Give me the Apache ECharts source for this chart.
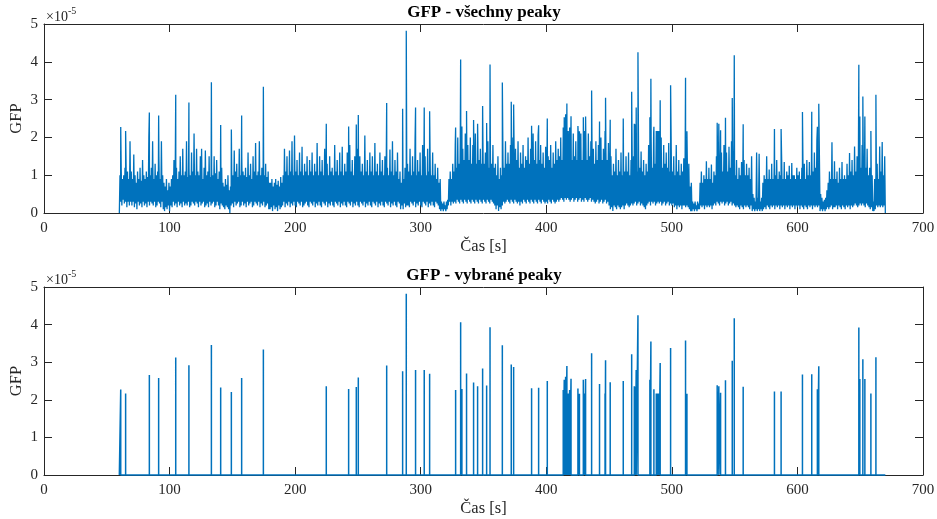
<!DOCTYPE html>
<html><head><meta charset="utf-8">
<script src="https://cdn.jsdelivr.net/npm/echarts@6/dist/echarts.min.js"></script>
<style>html,body{margin:0;padding:0;background:#fff}#c{width:937px;height:519px}</style>
</head><body><div id="c"></div>
<script>
// ---- data (GFP in units of 1e-5) ----
const titles = ['GFP - všechny peaky', 'GFP - vybrané peaky'];
const xLabel = 'Čas [s]';
const yLabel = 'GFP';
const xTicks = [0, 100, 200, 300, 400, 500, 600, 700];
const yTicks = [0, 1, 2, 3, 4, 5];
const sampleStart = 60;   // s
const sampleStep = 0.5;   // s
const signalEnd = 670;    // s
// full GFP signal (sub-threshold part), one value per sample, 10 s per row
const gfpBase = [
 0,1.0,.3,1.15,.2,.9,.35,1.0,.25,1.2,.3,.95,.15,1.1,.3,.9,.2,1.9,.3,1.1,
 .2,.9,.3,1.55,.15,1.0,.25,.8,.1,1.1,.3,.9,.2,1.2,.25,.85,.15,1.4,.3,1.0,
 .2,.9,.25,1.1,.15,.95,.3,2.0,.2,1.0,.3,1.2,.25,1.9,.2,.9,.3,1.3,.15,1.0,
 .2,1.1,.3,1.5,.25,.9,.15,1.9,.3,1.0,.1,.8,.05,.7,.15,.9,.1,.6,.2,.8,
 .05,.7,.2,.9,.15,1.0,.3,1.4,.2,1.0,.25,1.2,.15,.9,.3,1.1,.2,1.5,.25,1.0,
 .15,1.7,.3,1.0,.2,1.1,.25,1.9,.2,.95,.3,1.2,.15,1.0,.2,1.6,.3,1.1,.25,2.1,
 .2,1.0,.3,1.7,.25,1.1,.15,1.0,.3,1.5,.2,1.7,.25,.9,.3,1.2,.15,1.65,.2,1.0,
 .25,1.1,.15,1.5,.3,.95,.2,1.2,.25,1.0,.3,1.5,.15,1.05,.2,1.4,.3,.9,.2,1.1,
 .1,.9,.25,1.2,.2,.8,.15,.7,.1,.9,.2,.75,.15,1.0,.1,.6,0,.7,.2,1.1,
 .25,1.0,.15,1.65,.3,1.1,.2,1.3,.25,.95,.3,1.7,.15,1.0,.2,1.5,.3,1.1,.2,1.0,
 .25,1.2,.15,.95,.3,1.6,.2,1.0,.25,1.3,.3,.9,.15,1.5,.2,1.1,.3,1.85,.25,1.0,
 .2,1.1,.3,1.9,.15,1.0,.25,1.2,.2,.9,.3,1.0,.15,1.3,.2,.95,.25,1.1,.1,.8,
 .1,.8,.15,.9,.05,.7,.2,.8,.1,.9,.15,.75,.05,.85,.2,.7,.1,.95,.15,.8,
 .2,1.0,.3,1.7,.15,1.1,.25,1.5,.2,1.0,.3,1.65,.15,1.1,.25,1.9,.2,1.0,.3,2.05,
 .2,1.1,.15,1.4,.3,1.0,.25,1.6,.2,1.1,.3,1.75,.15,1.0,.2,1.3,.25,1.1,.3,1.5,
 .2,1.0,.15,1.4,.3,1.1,.25,1.6,.2,1.0,.3,1.3,.15,1.1,.25,1.85,.2,1.0,.3,1.5,
 .2,1.1,.15,1.4,.3,1.0,.25,1.7,.2,1.1,.3,1.3,.15,1.0,.25,1.5,.2,1.1,.3,1.2,
 .2,1.0,.15,1.8,.3,1.1,.25,1.4,.2,1.0,.3,1.6,.15,1.1,.25,1.75,.2,1.0,.3,1.3,
 .2,1.1,.15,1.6,.3,1.0,.25,1.8,.2,1.1,.3,1.4,.15,1.0,.25,1.5,.2,1.1,.3,1.7,
 .2,1.0,.15,1.5,.3,1.1,.25,1.3,.2,1.0,.3,2.05,.15,1.1,.25,1.4,.2,1.0,.3,1.6,
 .2,1.1,.15,1.5,.3,1.0,.25,1.85,.2,1.1,.3,1.3,.15,1.0,.25,1.6,.2,1.1,.3,1.4,
 .2,1.0,.15,1.5,.3,1.1,.25,1.2,.2,1.0,.3,1.68,.15,1.1,.25,1.9,.2,1.0,.3,1.4,
 .2,1.1,.15,1.6,.3,.9,.25,1.1,.1,.8,.2,1.0,.1,.9,.25,1.2,.15,1.0,.2,1.3,
 .2,1.1,.15,1.7,.3,1.0,.25,1.5,.2,1.1,.3,1.9,.15,1.0,.25,1.4,.2,1.1,.3,1.6,
 .2,1.0,.15,1.8,.3,1.1,.25,1.5,.2,1.0,.3,1.7,.15,1.1,.25,1.4,.2,1.0,.3,1.6,
 .2,1.0,.15,1.3,.3,.9,.25,1.2,.2,.8,.1,.9,.05,.3,.1,.25,.05,.3,.1,.2,
 .05,.3,.1,.35,.2,.9,.3,1.1,.2,.9,.3,1.3,.25,1.1,.3,1.8,.25,1.2,.35,2.0,
 .3,1.3,.25,1.9,.35,1.2,.3,1.7,.25,1.4,.35,2.1,.3,1.3,.25,1.8,.35,1.4,.3,2.0,
 .25,1.3,.35,1.8,.3,1.4,.25,2.1,.35,1.3,.3,1.9,.25,1.4,.35,1.7,.3,1.3,.25,2.05,
 .35,1.3,.3,1.6,.25,1.4,.35,1.9,.3,1.2,.25,1.5,.35,1.3,.3,1.8,.25,1.2,.2,1.3,
 .1,1.0,.2,1.5,.05,.9,.15,1.2,.1,1.0,.2,1.4,.3,1.2,.25,1.9,.3,1.3,.35,1.6,
 .3,1.3,.25,1.8,.35,1.4,.3,2.0,.25,1.3,.35,1.7,.3,1.4,.25,1.9,.3,1.2,.2,1.6,
 .3,1.3,.25,1.8,.35,1.2,.3,1.5,.25,1.4,.35,2.0,.3,1.3,.25,1.7,.35,1.4,.3,2.1,
 .25,1.4,.35,1.9,.3,1.3,.25,2.05,.35,1.4,.3,1.8,.25,1.3,.35,1.6,.3,1.2,.25,1.75,
 .3,1.3,.25,1.5,.35,1.4,.3,1.8,.25,1.2,.35,1.6,.3,1.3,.25,1.9,.3,1.4,.35,1.7,
 .3,1.5,.35,2.0,.4,1.4,.35,2.1,.3,1.5,.4,1.9,.35,1.4,.4,2.05,.35,1.5,.3,2.0,
 .35,1.4,.4,2.1,.3,1.5,.35,1.9,.4,1.4,.3,2.05,.35,1.5,.4,2.1,.3,1.4,.35,1.8,
 .3,1.5,.4,2.0,.35,1.4,.3,2.1,.35,1.5,.4,1.9,.3,1.4,.35,1.7,.3,1.3,.25,1.9,
 .3,1.4,.35,1.8,.25,1.3,.3,2.0,.35,1.4,.25,1.7,.3,1.3,.35,1.6,.25,1.4,.3,1.85,
 .2,1.1,.1,1.5,.15,1.0,.05,1.3,.2,1.1,.15,1.7,.1,1.0,.2,1.4,.15,1.1,.1,1.6,
 .15,1.0,.2,1.3,.1,1.1,.2,1.5,.25,1.1,.2,1.6,.15,1.0,.2,1.4,.25,1.1,.2,1.5,
 .25,1.2,.3,1.6,.2,1.1,.25,1.5,.3,1.2,.2,1.63,.25,1.1,.2,1.4,.15,1.0,.1,1.3,
 .2,1.1,.25,1.8,.3,1.3,.2,2.0,.3,1.2,.25,2.1,.3,1.3,.2,1.9,.25,1.2,.3,2.1,
 .25,1.3,.3,2.0,.2,1.2,.25,1.8,.3,1.3,.2,1.6,.25,1.2,.3,1.85,.2,1.1,.25,1.7,
 .2,1.1,.25,1.5,.15,1.0,.2,1.8,.1,1.1,.2,1.4,.15,1.0,.2,1.3,.1,1.1,.2,1.45,
 .2,1.0,.15,1.2,.2,.9,.15,1.3,.1,.7,.05,.8,.05,.3,.1,.25,.05,.3,.1,.2,
 .05,.3,.1,.25,.1,.8,.2,1.1,.15,.8,.2,1.0,.1,.9,.2,1.37,.15,.9,.2,1.2,
 .15,.9,.2,1.28,.1,.8,.2,1.1,.25,1.0,.2,1.5,.3,1.1,.25,1.7,.2,1.2,.3,1.6,
 .25,1.1,.3,1.8,.2,1.2,.25,1.6,.3,1.1,.2,1.75,.25,1.2,.3,1.9,.2,1.1,.25,1.8,
 .2,1.0,.15,1.4,.2,.9,.15,1.2,.1,1.0,.2,1.35,.15,.9,.1,1.4,.2,1.0,.15,1.3,
 .2,1.0,.15,1.2,.1,.9,.2,1.5,.05,.5,.1,.4,.05,.3,.1,1.6,.05,.4,.1,1.57,
 .05,.3,.1,.4,.05,.8,.1,1.0,.15,.9,.1,1.5,.2,.9,.15,1.15,.1,.9,.2,1.3,
 .15,.9,.2,1.2,.1,1.0,.2,1.4,.15,.9,.2,1.1,.1,1.0,.2,1.3,.15,.9,.2,1.35,
 .1,.9,.2,1.1,.15,1.0,.2,1.25,.1,.9,.2,1.32,.15,1.0,.2,1.0,.1,.9,.2,1.2,
 .15,1.0,.2,1.1,.1,.9,.2,1.2,.15,1.0,.1,1.3,.2,.9,.15,1.4,.1,1.0,.2,1.35,
 .15,1.0,.2,1.4,.1,1.1,.2,1.6,.15,1.2,.2,1.94,.15,1.1,.2,1.5,.05,.5,.1,.4,
 .05,.3,.1,.35,.05,.4,.1,.6,.15,.8,.1,1.1,.15,.9,.2,1.87,.1,.9,.15,1.37,
 .15,.9,.2,1.1,.1,.8,.2,1.2,.15,.9,.1,1.35,.2,.9,.15,1.0,.1,.9,.2,1.3,
 .15,1.0,.2,1.59,.1,1.1,.2,1.4,.15,1.0,.2,1.76,.25,1.1,.2,1.5,.15,1.1,.2,1.7,
 .25,1.2,.2,1.8,.25,1.1,.2,1.6,.15,1.2,.25,1.7,.2,1.0,.15,1.2,.1,.9,.15,1.0,
 .05,.3,.05,.9,.1,1.0,.2,1.3,.15,.9,.2,1.76,.15,1.1,.2,1.88,.15,1.0,.2,1.5,
 0
];
// selected peaks (times in s, values in 1e-5)
const peakTimes = [61.1,65.0,83.9,91.3,104.9,115.4,133.3,140.7,149.2,157.4,174.7,224.8,242.6,248.7,250.3,272.9,285.6,288.5,295.9,302.8,307.1,327.8,331.8,332.8,336.5,342.1,345.3,349.3,352.5,355.2,365.0,372.1,374.0,388.3,393.9,400.8,413.5,414.3,415.4,416.4,417.5,418.6,419.7,425.2,426.4,429.5,430.3,431.3,436.1,442.4,446.8,447.2,450.9,461.3,468.0,470.1,470.9,471.6,473.0,482.5,483.3,485.7,487.6,488.6,489.7,490.7,499.0,510.9,512.0,536.1,537.4,538.8,542.7,548.1,549.7,556.8,581.7,587.0,604.0,611.4,615.9,617.0,648.9,649.7,652.1,653.7,658.5,662.5];
const peakValues = [2.275,2.17,2.66,2.58,3.125,2.92,3.46,2.33,2.21,2.58,3.34,2.36,2.29,2.34,2.59,2.91,2.76,4.82,2.79,2.79,2.69,2.26,4.06,2.29,2.70,2.46,2.36,2.83,2.38,3.93,3.45,2.94,2.87,2.31,2.32,2.50,2.26,2.53,2.61,2.90,2.17,2.26,2.56,2.30,2.16,2.53,2.17,2.55,3.24,2.42,2.17,3.05,2.47,2.50,3.21,2.36,2.35,2.79,4.25,2.53,3.55,2.28,2.17,2.17,2.17,2.98,3.38,3.58,2.16,2.39,2.36,2.19,2.52,3.04,4.17,2.35,2.22,2.22,2.67,2.68,2.28,2.89,3.92,2.55,3.08,2.55,2.17,3.13];

// ---- build series data ----
const allPts = gfpBase.map((v, i) => [sampleStart + i * sampleStep, v]);
peakTimes.forEach((t, i) => allPts.push([t, peakValues[i]]));
allPts.sort((a, b) => a[0] - b[0]);

const selPts = [[sampleStart, 0]];
peakTimes.forEach((t, i) => { selPts.push([t, 0], [t, peakValues[i]], [t, 0]); });
selPts.push([signalEnd, 0]);

// ---- chart ----
const FONT = '"Liberation Serif","Times New Roman",serif';
const AX = '#262626';
const LINE = '#0072BD';
const grids = [
  {left: 44, right: 14, top: 24, height: 189, containLabel: false, outerBoundsMode: 'none'},
  {left: 44, right: 14, top: 287, height: 188, containLabel: false, outerBoundsMode: 'none'}
];
const xAxes = [], yAxes = [];
grids.forEach((g, gi) => {
  const common = {gridIndex: gi, type: 'value', min: xTicks[0], max: xTicks[xTicks.length-1], interval: xTicks[1]-xTicks[0],
    splitLine: {show: false}, axisLine: {show: true, onZero: false, lineStyle: {color: AX, width: 1}},
    axisTick: {show: true, inside: true, length: 8, lineStyle: {color: AX, width: 1}}};
  xAxes.push(Object.assign({}, common, {position: 'bottom',
    axisLabel: {show: true, color: AX, fontFamily: FONT, fontSize: 15, margin: 8},
    name: xLabel, nameLocation: 'middle', nameGap: 25, nameMoveOverlap: false,
    nameTextStyle: {color: AX, fontFamily: FONT, fontSize: 16.5}}));
  xAxes.push(Object.assign({}, common, {position: 'top', axisLabel: {show: false}}));
  const ycommon = {gridIndex: gi, type: 'value', min: yTicks[0], max: yTicks[yTicks.length-1], interval: yTicks[1]-yTicks[0],
    splitLine: {show: false}, axisLine: {show: true, onZero: false, lineStyle: {color: AX, width: 1}},
    axisTick: {show: true, inside: true, length: 8, lineStyle: {color: AX, width: 1}}};
  yAxes.push(Object.assign({}, ycommon, {position: 'left',
    axisLabel: {show: true, color: AX, fontFamily: FONT, fontSize: 15, margin: 6},
    name: yLabel, nameLocation: 'middle', nameGap: 19, nameMoveOverlap: false,
    nameTextStyle: {color: AX, fontFamily: FONT, fontSize: 16.5}}));
  yAxes.push(Object.assign({}, ycommon, {position: 'right', axisLabel: {show: false}}));
});

const graphic = [];
grids.forEach((g, gi) => {
  graphic.push({type: 'text', x: 484, y: g.top - 11, style: {text: titles[gi], fill: '#000', font: 'bold 17px ' + FONT, textAlign: 'center', textVerticalAlign: 'middle'}});
  graphic.push({type: 'text', x: 46, y: g.top - 7, style: {text: '×10', fill: AX, font: '14px ' + FONT, textVerticalAlign: 'middle'}});
  graphic.push({type: 'text', x: 68, y: g.top - 13, style: {text: '-5', fill: AX, font: '10px ' + FONT, textVerticalAlign: 'middle'}});
});

const chart = echarts.init(document.getElementById('c'), null, {renderer: 'canvas'});
chart.setOption({
  animation: false,
  backgroundColor: '#fff',
  grid: grids,
  xAxis: xAxes,
  yAxis: yAxes,
  graphic: graphic,
  series: [
    {type: 'line', xAxisIndex: 0, yAxisIndex: 0, data: allPts, showSymbol: false, symbol: 'none',
     lineStyle: {color: LINE, width: 1.3}, clip: false},
    {type: 'line', xAxisIndex: 2, yAxisIndex: 2, data: selPts, showSymbol: false, symbol: 'none',
     lineStyle: {color: LINE, width: 1.5}, clip: false}
  ]
});
</script></body></html>
